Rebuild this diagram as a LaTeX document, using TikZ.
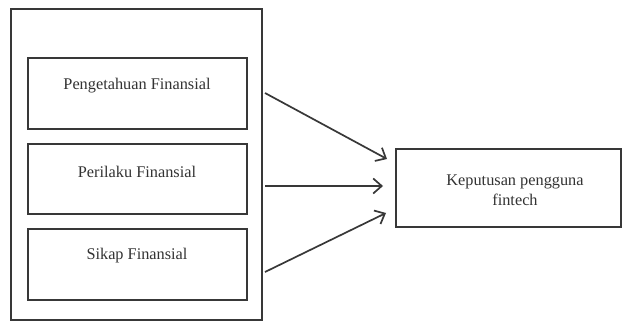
\documentclass[tikz,border=0pt]{standalone}
\usepackage{fontspec}
\setmainfont{Liberation Serif}
\usetikzlibrary{arrows.meta}
\definecolor{ln}{HTML}{383838}
\definecolor{tx}{HTML}{333333}
\begin{document}
\begin{tikzpicture}[x=1pt,y=-1pt,
  box/.style={draw=ln,line width=1.6pt,rectangle,inner sep=0pt},
  lbl/.style={text=tx,font=\fontsize{16.3}{19.5}\selectfont,align=center,inner sep=0pt},
  arr/.style={draw=ln,line width=1.7pt,-{Straight Barb[length=8.5pt,width=15pt,line width=1.7pt]}}]
\useasboundingbox (0,0) rectangle (622,321);
\fill[white] (0,0) rectangle (622,321);
\node[box,minimum width=251pt,minimum height=311pt] (outer) at (136.5,164.5) {};
\node[box,minimum width=219pt,minimum height=71pt] (b1) at (137.5,93.5) {};
\node[box,minimum width=219pt,minimum height=70pt] (b2) at (137.5,179) {};
\node[box,minimum width=219pt,minimum height=71pt] (b3) at (137.5,264.5) {};
\node[lbl] (t1) at (137,86) {Pengetahuan Finansial};
\node[lbl] (t2) at (137,172) {Perilaku Finansial};
\node[lbl] (t3) at (137,256) {Sikap Finansial};
\node[box,minimum width=225pt,minimum height=78pt] (r) at (508.5,188) {};
\node[lbl] (rt) at (515,190) {Keputusan pengguna\\fintech};
\coordinate (s1) at (265,93);
\coordinate (s2) at (265,186);
\coordinate (s3) at (265,272);
\coordinate (e1) at (387,159);
\coordinate (e2) at (383,186);
\coordinate (e3) at (386,213);
\draw[arr] (s1) -- (e1);
\draw[arr] (s2) -- (e2);
\draw[arr] (s3) -- (e3);
\end{tikzpicture}
\end{document}
